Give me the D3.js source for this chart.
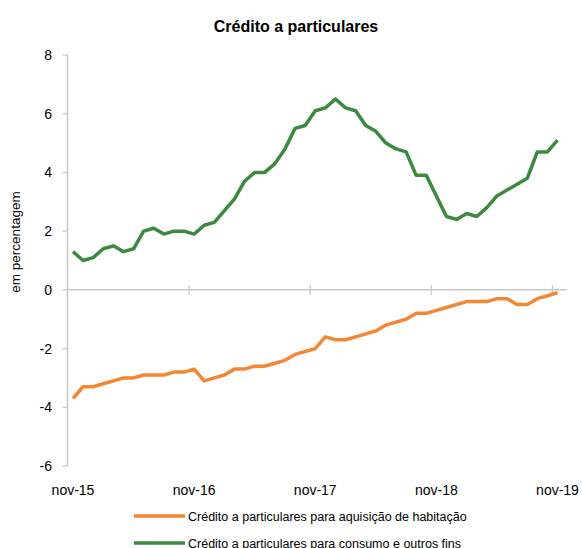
<!DOCTYPE html>
<html><head><meta charset="utf-8">
<script src="https://cdn.jsdelivr.net/npm/d3@7"></script>
<style>body{margin:0;background:#fff;font-family:"Liberation Sans",Arial,sans-serif;}</style>
</head><body><div id="chart"></div>
<script>
const title = "Crédito a particulares";
const yLabel = "em percentagem";
const months = ["nov","dez","jan","fev","mar","abr","mai","jun","jul","ago","set","out"];
const xTickLabels = ["nov-15","nov-16","nov-17","nov-18","nov-19"];
const yTicks = [-6,-4,-2,0,2,4,6,8];
const seriesNames = ["Crédito a particulares para aquisição de habitação","Crédito a particulares para consumo e outros fins"];
const habitacao = [-3.7,-3.3,-3.3,-3.2,-3.1,-3.0,-3.0,-2.9,-2.9,-2.9,-2.8,-2.8,-2.7,-3.1,-3.0,-2.9,-2.7,-2.7,-2.6,-2.6,-2.5,-2.4,-2.2,-2.1,-2.0,-1.6,-1.7,-1.7,-1.6,-1.5,-1.4,-1.2,-1.1,-1.0,-0.8,-0.8,-0.7,-0.6,-0.5,-0.4,-0.4,-0.4,-0.3,-0.3,-0.5,-0.5,-0.3,-0.2,-0.1];
const consumo = [1.3,1.0,1.1,1.4,1.5,1.3,1.4,2.0,2.1,1.9,2.0,2.0,1.9,2.2,2.3,2.7,3.1,3.7,4.0,4.0,4.3,4.8,5.5,5.6,6.1,6.2,6.5,6.2,6.1,5.6,5.4,5.0,4.8,4.7,3.9,3.9,3.2,2.5,2.4,2.6,2.5,2.8,3.2,3.4,3.6,3.8,4.7,4.7,5.1];
const colors = ["#f58634","#3b8a3e"];

const W = 582, H = 548;
const svg = d3.select("#chart").append("svg").attr("width", W).attr("height", H);
const n = consumo.length;
const x = d3.scaleLinear().domain([0, n - 1]).range([73, 557.5]);
const y = d3.scaleLinear().domain([-6, 8]).range([466, 55]);
const axisColor = "#c8c8c8";

svg.append("text").attr("x", 296).attr("y", 32).attr("text-anchor", "middle")
  .attr("font-size", 16).attr("font-weight", "bold").attr("fill", "#000").text(title);

// y axis
const yAxisX = 67.5;
svg.append("line").attr("x1", yAxisX).attr("x2", yAxisX).attr("y1", y(8)).attr("y2", y(-6))
  .attr("stroke", axisColor).attr("stroke-width", 1.5);
yTicks.forEach(t => {
  svg.append("line").attr("x1", yAxisX - 5).attr("x2", yAxisX).attr("y1", y(t)).attr("y2", y(t))
    .attr("stroke", axisColor).attr("stroke-width", 1.2);
  svg.append("text").attr("x", 52).attr("y", y(t) + 5).attr("text-anchor", "end")
    .attr("font-size", 14).attr("fill", "#000").text(t);
});
svg.append("text").attr("transform", `translate(20,${242}) rotate(-90)`).attr("text-anchor", "middle")
  .attr("font-size", 13.5).attr("fill", "#000").text(yLabel);

// x axis at zero
svg.append("line").attr("x1", yAxisX).attr("x2", 567).attr("y1", y(0)).attr("y2", y(0))
  .attr("stroke", axisColor).attr("stroke-width", 1.5);
xTickLabels.forEach((lab, i) => {
  const idx = i * 12;
  if (idx > 0) {
    svg.append("line").attr("x1", x(idx - 0.5)).attr("x2", x(idx - 0.5))
      .attr("y1", y(0) - 5).attr("y2", y(0) + 5).attr("stroke", axisColor).attr("stroke-width", 1.2);
  }
  svg.append("text").attr("x", x(idx)).attr("y", 495).attr("text-anchor", "middle")
    .attr("font-size", 14).attr("fill", "#000").text(lab);
});

const line = d3.line().x((d, i) => x(i)).y(d => y(d));
[habitacao, consumo].forEach((s, k) => {
  svg.append("path").datum(s).attr("d", line).attr("fill", "none")
    .attr("stroke", colors[k]).attr("stroke-width", 3.5).attr("stroke-linejoin", "round");
});

// legend
seriesNames.forEach((name, k) => {
  const ly = 516 + k * 27;
  svg.append("line").attr("x1", 134).attr("x2", 185).attr("y1", ly).attr("y2", ly)
    .attr("stroke", colors[k]).attr("stroke-width", 3.5);
  svg.append("text").attr("x", 188).attr("y", ly + 4.5).attr("font-size", 12.5)
    .attr("fill", "#000").text(name);
});
</script></body></html>
